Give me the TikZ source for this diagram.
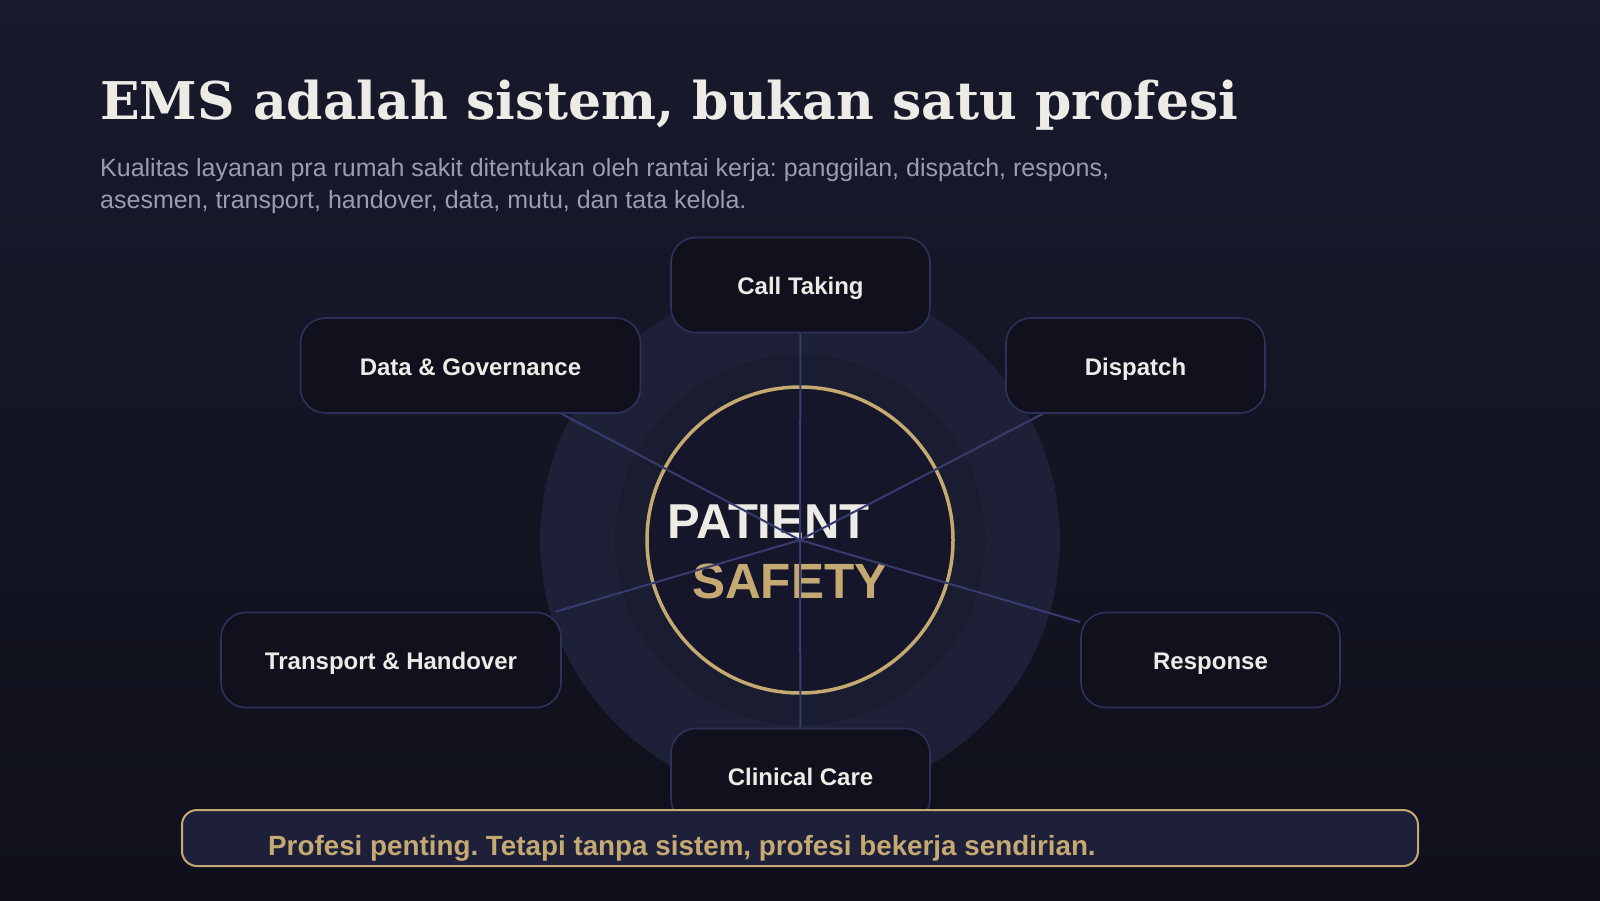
\documentclass[tikz,border=0pt]{standalone}
\usepackage{fontspec}
\setmainfont{Liberation Sans}
\newfontfamily\headfont{DejaVu Serif}
\usepackage{tikz}
\frenchspacing

\definecolor{bgtop}{HTML}{181A2D}
\definecolor{bgbot}{HTML}{0F101A}
\definecolor{ringout}{HTML}{1E2038}
\definecolor{ringmid}{HTML}{1A1C32}
\definecolor{core}{HTML}{15162A}
\definecolor{gold}{HTML}{C5A972}
\definecolor{spokeblue}{HTML}{373B6D}
\definecolor{boxfill}{HTML}{10111D}
\definecolor{boxline}{HTML}{2E3159}
\definecolor{ink}{HTML}{ECEBE6}
\definecolor{muted}{HTML}{9C9CAF}
\definecolor{bannerfill}{HTML}{1E2039}

\pgfdeclarelayer{back}
\pgfdeclarelayer{mid}
\pgfsetlayers{back,mid,main}

\begin{document}
\begin{tikzpicture}[x=1pt, y=-1pt,
    stage/.style={rectangle, rounded corners=25pt, draw=boxline, line width=1.6pt, fill=boxfill,
        minimum height=95pt, text height=19pt, text depth=0pt, text=ink,
        font=\fontsize{24}{28}\selectfont\bfseries},
    spoke/.style={draw=spokeblue, line width=2pt}]
    \useasboundingbox (0,0) rectangle (1600,900);
    \begin{pgfonlayer}{back}
        \shade[top color=bgtop, bottom color=bgbot] (0,0) rectangle (1600,900);
        % rings round the centre
        \coordinate (hub) at (800,540);
        \fill[ringout] (hub) circle (260);
        \fill[ringmid] (hub) circle (185);
        \filldraw[fill=core, draw=gold, line width=3.5pt] (hub) circle (153);
        \node[anchor=base west, inner sep=0, text=ink, font=\fontsize{49}{52}\selectfont\bfseries] (pt1) at (667,538) {PATIENT};
        \node[anchor=base west, inner sep=0, text=gold, font=\fontsize{49.5}{52}\selectfont\bfseries] (pt2) at (692,598) {SAFETY};
    \end{pgfonlayer}

    % heading
    \node[anchor=base west, inner sep=0, text=ink, font=\headfont\bfseries\fontsize{52}{56}\selectfont] (title) at (100,119) {EMS adalah sistem, bukan satu profesi};
    \node[anchor=base west, inner sep=0, text=muted, font=\fontsize{25}{29}\selectfont] (sub1) at (100,176) {Kualitas layanan pra rumah sakit ditentukan oleh rantai kerja: panggilan, dispatch, respons,};
    \node[anchor=base west, inner sep=0, text=muted, font=\fontsize{25}{29}\selectfont] (sub2) at ([yshift=-32pt]sub1.base west) {asesmen, transport, handover, data, mutu, dan tata kelola.};

    % the six stages
    \node[stage, minimum width=259pt] (call) at (800.5,285) {Call Taking};
    \node[stage, minimum width=259pt] (dispatch) at (1135.5,365.5) {Dispatch};
    \node[stage, minimum width=259pt] (response) at (1210.5,660) {Response};
    \node[stage, minimum width=259pt] (care) at (800.5,776) {Clinical Care};
    \node[stage, minimum width=340pt] (transport) at (391,660) {Transport \& Handover};
    \node[stage, minimum width=340pt] (data) at (470.5,365.5) {Data \& Governance};

    \begin{pgfonlayer}{mid}
        \draw[spoke] (hub) -- (call);
        \draw[spoke] (hub) -- (dispatch);
        \draw[spoke] (hub) -- (response);
        \draw[spoke] (hub) -- (care);
        \draw[spoke] (hub) -- (transport);
        \draw[spoke] (hub) -- (data);
    \end{pgfonlayer}

    % closing note
    \node[rectangle, rounded corners=15pt, draw=gold, line width=2pt, fill=bannerfill,
        minimum width=1236pt, minimum height=56pt] (note) at (800,838) {};
    \node[anchor=base west, inner sep=0, text=gold, font=\fontsize{27.8}{32}\selectfont\bfseries] (notetxt) at (268,855) {Profesi penting. Tetapi tanpa sistem, profesi bekerja sendirian.};
\end{tikzpicture}
\end{document}
